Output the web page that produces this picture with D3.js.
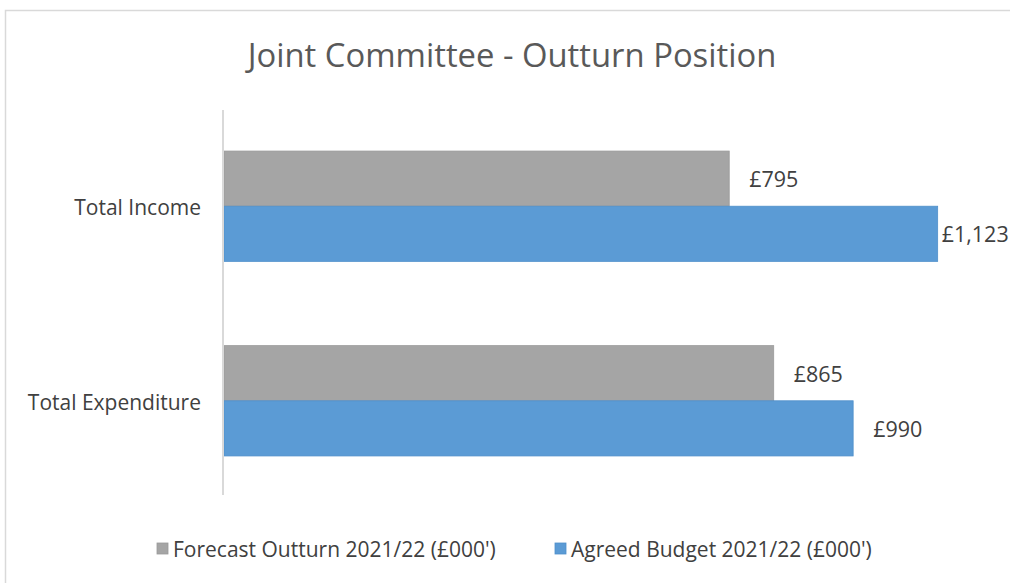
<!DOCTYPE html>
<html><head><meta charset="utf-8">
<script src="https://cdn.jsdelivr.net/npm/d3@7"></script>
<style>
body{margin:0;background:#fff;}
text{font-family:"Open Sans","Noto Sans",sans-serif;fill:#404040;}
</style></head>
<body><svg id="c" width="1010" height="583"></svg>
<script>
const categories = ["Total Income", "Total Expenditure"];
const seriesNames = ["Forecast Outturn 2021/22 (£000')", "Agreed Budget 2021/22 (£000')"];
const forecast = [795, 865];
const budget = [1123, 990];
const colors = ["#a5a5a5", "#5b9bd5"];
const strokes = ["#9a9a9a", "#4f8fca"];

const svg = d3.select("#c");
svg.append("rect").attr("x",5.5).attr("y",10.5).attr("width",1020).attr("height",600)
  .attr("fill","#fff").attr("stroke","#d9d9d9").attr("stroke-width",1.5);

svg.append("text").attr("x",512).attr("y",67).attr("text-anchor","middle")
  .style("font-size","32.8px").style("fill","#595959").text("Joint Committee - Outturn Position");

const x0 = 224;
const x = d3.scaleLinear().domain([0,1200]).range([x0, x0 + 1200*0.6355]);
const y = d3.scaleBand().domain(categories).range([110,497]).paddingInner(0.433).paddingOuter(0.211);
const ys = d3.scaleBand().domain([0,1]).range([0, y.bandwidth()]);

const data = categories.map((c,i)=>({c, vals:[forecast[i], budget[i]]}));
const g = svg.append("g");
data.forEach(d=>{
  d.vals.forEach((v,k)=>{
    const yy = y(d.c)+ys(k);
    g.append("rect").attr("x",x(0)).attr("y",yy).attr("width",x(v)-x(0)).attr("height",ys.bandwidth())
      .attr("fill",colors[k]).attr("stroke",strokes[k]).attr("stroke-width",0.8);
    g.append("text").attr("x",x(v)+(v>1100?4:20)).attr("y",yy+ys.bandwidth()/2+1).attr("dy","0.35em")
      .style("font-size","21.5px").text("£"+d3.format(",")(v));
  });
});

// axis
const ax = svg.append("g").attr("transform",`translate(${x0-1},0)`)
  .call(d3.axisLeft(y).tickSize(0).tickPadding(22));
ax.select(".domain").attr("stroke","#d9d9d9").attr("stroke-width",2).attr("d","M0,110V495");
ax.selectAll("text").style("font-size","21px").style("fill","#404040").attr("font-family",null).attr("dy","0.42em");

// legend
const leg = svg.append("g");
const lx = [157, 555];
seriesNames.forEach((n,k)=>{
  leg.append("rect").attr("x",lx[k]).attr("y",543).attr("width",11).attr("height",11)
    .attr("fill",colors[k]).attr("stroke",strokes[k]).attr("stroke-width",0.8);
  leg.append("text").attr("x",lx[k]+16).attr("y",549).attr("dy","0.36em")
    .style("font-size","21px").text(n);
});
</script></body></html>
